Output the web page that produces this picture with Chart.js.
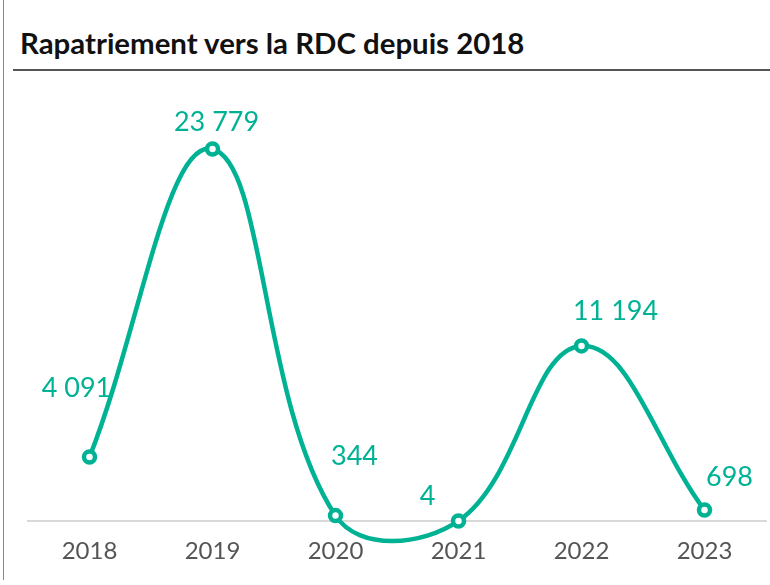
<!DOCTYPE html>
<html><head><meta charset="utf-8">
<script src="https://cdn.jsdelivr.net/npm/chart.js@4/dist/chart.umd.min.js"></script>
<style>
html,body{margin:0;padding:0;background:#fff;width:770px;height:585px;overflow:hidden;font-family:Lato,sans-serif;}
#frame{position:absolute;left:3px;top:0;width:0;height:580px;border-left:1px solid #8a8a8a;}
#title{position:absolute;left:20px;top:26px;font:bold 29.4px Lato,sans-serif;color:#111;white-space:nowrap;line-height:34px;}
#rule{position:absolute;left:13px;top:69px;width:757px;height:2px;background:#555;}
#wrap{position:absolute;left:0;top:0;width:770px;height:585px;}
</style></head>
<body>
<div id="frame"></div>
<div id="title">Rapatriement vers la RDC depuis 2018</div>
<div id="rule"></div>
<div id="wrap"><canvas id="c" width="770" height="585"></canvas></div>
<script>
const years = ['2018','2019','2020','2021','2022','2023'];
const repatries = [4091, 23779, 344, 4, 11194, 698];
const labelOffsets = [[-13,-69],[4,-27],[19,-59],[-31,-25],[34,-35],[25,-33]];

const teal = '#00B294';
function fmt(v){return String(v).replace(/\B(?=(\d{3})+(?!\d))/g,' ');}

const valueLabels = {
  id:'valueLabels',
  afterDatasetsDraw(chart){
    const ctx = chart.ctx;
    const meta = chart.getDatasetMeta(0);
    ctx.save();
    ctx.font = '27px Lato, sans-serif';
    ctx.fillStyle = teal;
    ctx.textAlign = 'center';
    ctx.textBaseline = 'middle';
    meta.data.forEach((pt,i)=>{
      const o = labelOffsets[i];
      ctx.fillText(fmt(repatries[i]), pt.x + o[0], pt.y + o[1]);
    });
    ctx.restore();
  }
};

new Chart(document.getElementById('c'), {
  type:'line',
  data:{labels:years,datasets:[{
    data:repatries,
    borderColor:teal,
    borderWidth:4.5,
    tension:0.4,
    capBezierPoints:false,
    pointRadius:5.5,
    pointBorderWidth:4.5,
    pointBackgroundColor:'#fff',
    pointBorderColor:teal,
    clip:false,
    fill:false
  }]},
  options:{
    responsive:false,
    animation:false,
    events:[],
    layout:{autoPadding:false,padding:{left:28,right:4,top:83,bottom:0}},
    elements:{line:{capBezierPoints:false}},
    plugins:{legend:{display:false},title:{display:false},tooltip:{enabled:false}},
    scales:{
      x:{
        offset:true,
        grid:{display:false,drawTicks:false},
        border:{display:true,color:'#d9d9d9',width:2},
        ticks:{color:'#555',font:{family:'Lato',size:24},padding:16},
        afterFit(s){s.height=64;}
      },
      y:{display:false,min:0,max:28000}
    }
  },
  plugins:[valueLabels]
});
</script>
</body></html>
